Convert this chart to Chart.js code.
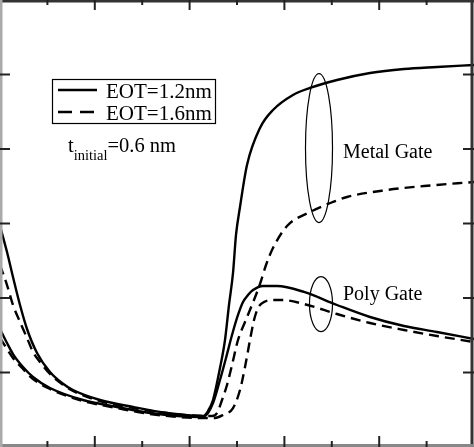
<!DOCTYPE html>
<html>
<head>
<meta charset="utf-8">
<script src="https://cdn.jsdelivr.net/npm/chart.js@4.4.1/dist/chart.umd.min.js"></script>
<style>
  html, body { margin: 0; padding: 0; background: #fff; }
  #wrap { width: 474px; height: 447px; }
</style>
</head>
<body>
<div id="wrap"><canvas id="c" width="474" height="447"></canvas></div>
<script>
// ---- Data (x: 0..10, y: 0..6 axis units) ----
const metal12X = [0, 0.148, 0.274, 0.422, 0.570, 0.781, 1.055, 1.308, 1.540, 2.110, 2.806, 3.523, 4.283, 4.388, 4.494, 4.641, 4.747, 4.831, 4.916, 4.979, 5.063, 5.211, 5.485, 5.759, 6.181, 6.540, 7.110, 7.806, 8.523, 9.219, 10];
const metal12Y = [2.966, 2.617, 2.282, 1.906, 1.584, 1.262, 1.007, 0.859, 0.765, 0.631, 0.537, 0.456, 0.416, 0.483, 0.631, 1.060, 1.436, 1.906, 2.336, 2.846, 3.221, 3.785, 4.282, 4.523, 4.725, 4.819, 4.926, 5.020, 5.074, 5.101, 5.128];

const metal16X = [0, 0.148, 0.274, 0.422, 0.570, 0.696, 0.844, 1.055, 1.308, 1.540, 2.110, 2.806, 3.523, 4.325, 4.473, 4.578, 4.684, 4.789, 4.895, 5.021, 5.169, 5.316, 5.485, 5.612, 5.759, 6.055, 6.540, 7.025, 7.321, 8.165, 8.945, 10];
const metal16Y = [2.443, 2.174, 1.906, 1.678, 1.463, 1.275, 1.141, 0.980, 0.846, 0.752, 0.617, 0.523, 0.456, 0.416, 0.416, 0.456, 0.631, 0.832, 1.101, 1.436, 1.678, 1.906, 2.188, 2.443, 2.671, 2.966, 3.154, 3.289, 3.356, 3.450, 3.503, 3.557];

const poly12X = [0, 0.148, 0.274, 0.485, 0.696, 1.055, 1.751, 2.468, 3.165, 4.219, 4.325, 4.494, 4.641, 4.768, 4.895, 5.021, 5.127, 5.232, 5.338, 5.549, 5.844, 6.414, 7.110, 7.806, 8.523, 9.219, 10];
const poly12Y = [1.584, 1.396, 1.248, 1.074, 0.940, 0.792, 0.631, 0.537, 0.456, 0.403, 0.416, 0.591, 0.899, 1.195, 1.503, 1.772, 1.946, 2.040, 2.107, 2.161, 2.161, 2.081, 1.906, 1.745, 1.624, 1.544, 1.450];

const poly16X = [0, 0.148, 0.274, 0.485, 0.696, 1.055, 1.751, 2.468, 3.165, 4.219, 4.536, 4.705, 4.916, 5.063, 5.169, 5.274, 5.359, 5.443, 5.570, 5.738, 5.949, 6.414, 7.110, 7.806, 8.523, 9.219, 10];
const poly16Y = [1.463, 1.315, 1.195, 1.047, 0.913, 0.779, 0.617, 0.523, 0.443, 0.389, 0.389, 0.430, 0.523, 0.765, 1.074, 1.436, 1.705, 1.866, 1.946, 1.973, 1.973, 1.919, 1.785, 1.664, 1.570, 1.490, 1.409];

const xTicks = [1, 2, 3, 4, 5, 6, 7, 8, 9];
const xMajorTicks = [2, 4, 6, 8];
const yTicks = [1, 2, 3, 4, 5];

const legendLabels = ['EOT=1.2nm', 'EOT=1.6nm'];
const groupLabels = ['Metal Gate', 'Poly Gate'];
// ellipse annotations: [centerX, centerY, radiusX, radiusY] in axis units
const metalEllipse = [6.730, 4.013, 0.285, 1.0];
const polyEllipse = [6.772, 1.919, 0.243, 0.369];
// group label anchors [x, y] (left, baseline) in axis units
const metalLabelPos = [7.236, 3.879];
const polyLabelPos = [7.236, 1.973];

const SERIF = '"Liberation Serif", "Times New Roman", "DejaVu Serif", serif';
const DASH = [10, 6];

function pts(xs, ys) { return xs.map((x, i) => ({ x: x, y: ys[i] })); }

function ds(label, xs, ys, dashed) {
  return {
    label: label,
    data: pts(xs, ys),
    borderColor: '#000',
    borderWidth: 2.4,
    borderDash: dashed ? DASH : [],
    pointRadius: 0,
    fill: false,
    cubicInterpolationMode: 'monotone'
  };
}

const decor = {
  id: 'decor',
  afterDraw(chart) {
    const ctx = chart.ctx;
    const a = chart.chartArea;
    const sx = chart.scales.x, sy = chart.scales.y;
    ctx.save();
    // frame
    ctx.lineCap = 'butt';
    ctx.lineWidth = 3;
    ctx.strokeStyle = '#333';
    ctx.beginPath(); ctx.moveTo(a.left, a.top + 1); ctx.lineTo(a.right, a.top + 1); ctx.stroke();
    ctx.beginPath(); ctx.moveTo(a.right - 2, a.top); ctx.lineTo(a.right - 2, a.bottom); ctx.stroke();
    ctx.strokeStyle = '#888';
    ctx.beginPath(); ctx.moveTo(a.left, a.bottom - 1.5); ctx.lineTo(a.right, a.bottom - 1.5); ctx.stroke();
    ctx.strokeStyle = '#aaa';
    ctx.beginPath(); ctx.moveTo(a.left + 1, a.top); ctx.lineTo(a.left + 1, a.bottom); ctx.stroke();

    // ticks
    ctx.strokeStyle = '#222';
    ctx.lineWidth = 2;
    xTicks.forEach(v => {
      const px = sx.getPixelForValue(v);
      const len = xMajorTicks.includes(v) ? 10 : 5;
      ctx.beginPath(); ctx.moveTo(px, a.top); ctx.lineTo(px, a.top + len); ctx.stroke();
      ctx.beginPath(); ctx.moveTo(px, a.bottom); ctx.lineTo(px, a.bottom - len - 1); ctx.stroke();
    });
    yTicks.forEach(v => {
      const py = sy.getPixelForValue(v);
      ctx.beginPath(); ctx.moveTo(a.left, py); ctx.lineTo(a.left + 10, py); ctx.stroke();
      ctx.beginPath(); ctx.moveTo(a.right, py); ctx.lineTo(a.right - 11, py); ctx.stroke();
    });

    // ellipses
    ctx.lineWidth = 1.2;
    ctx.strokeStyle = '#000';
    [metalEllipse, polyEllipse].forEach(e => {
      const cx = sx.getPixelForValue(e[0]);
      const cy = sy.getPixelForValue(e[1]);
      const rx = Math.abs(sx.getPixelForValue(e[0] + e[2]) - cx);
      const ry = Math.abs(sy.getPixelForValue(e[1] + e[3]) - cy);
      ctx.beginPath(); ctx.ellipse(cx, cy, rx, ry, 0, 0, Math.PI * 2); ctx.stroke();
    });

    // group labels
    ctx.fillStyle = '#000';
    ctx.font = '20px ' + SERIF;
    ctx.textBaseline = 'alphabetic';
    ctx.textAlign = 'left';
    ctx.fillText(groupLabels[0], sx.getPixelForValue(metalLabelPos[0]), sy.getPixelForValue(metalLabelPos[1]));
    ctx.fillText(groupLabels[1], sx.getPixelForValue(polyLabelPos[0]), sy.getPixelForValue(polyLabelPos[1]));

    // legend box
    ctx.lineWidth = 1.2;
    ctx.strokeStyle = '#000';
    ctx.strokeRect(52.5, 79.5, 163, 44);
    const rows = [90, 112];
    ctx.font = '21px ' + SERIF;
    chart.data.datasets.slice(0, 2).forEach((d, i) => {
      ctx.lineWidth = 2.6;
      ctx.setLineDash(i === 1 ? [14, 8] : []);
      ctx.beginPath(); ctx.moveTo(58, rows[i]); ctx.lineTo(97, rows[i]); ctx.stroke();
      ctx.setLineDash([]);
      ctx.fillText(legendLabels[i], 106, rows[i] + 8);
    });

    // t_initial annotation
    ctx.font = '20.5px ' + SERIF;
    ctx.fillText('t', 68, 152);
    const tw = ctx.measureText('t').width;
    ctx.font = '14.5px ' + SERIF;
    ctx.fillText('initial', 68 + tw, 160);
    const sw = ctx.measureText('initial').width;
    ctx.font = '20.5px ' + SERIF;
    ctx.fillText('=0.6 nm', 68 + tw + sw, 152);
    ctx.restore();
  }
};

new Chart(document.getElementById('c'), {
  type: 'line',
  data: {
    datasets: [
      ds('Metal Gate EOT=1.2nm', metal12X, metal12Y, false),
      ds('Metal Gate EOT=1.6nm', metal16X, metal16Y, true),
      ds('Poly Gate EOT=1.2nm', poly12X, poly12Y, false),
      ds('Poly Gate EOT=1.6nm', poly16X, poly16Y, true)
    ]
  },
  options: {
    responsive: false,
    animation: false,
    devicePixelRatio: 1,
    layout: { padding: 0 },
    plugins: { legend: { display: false }, tooltip: { enabled: false } },
    scales: {
      x: { type: 'linear', min: 0, max: 10, display: false },
      y: { type: 'linear', min: 0, max: 6, display: false }
    }
  },
  plugins: [decor]
});
</script>
</body>
</html>
